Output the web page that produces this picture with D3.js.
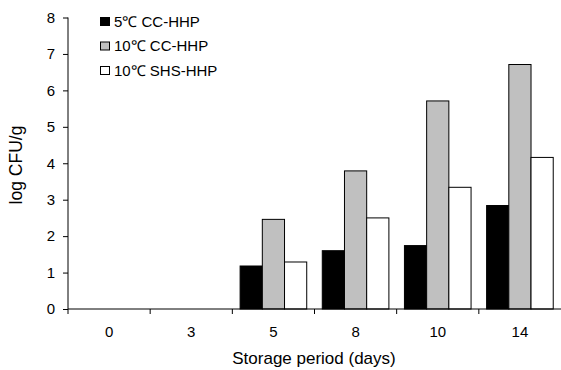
<!DOCTYPE html>
<html>
<head>
<meta charset="utf-8">
<script src="https://cdn.jsdelivr.net/npm/d3@7"></script>
<style>
  body { margin: 0; background: #fff; }
  text { font-family: "Liberation Sans", Arial, sans-serif; fill: #000; }
</style>
</head>
<body>
<div id="chart"></div>
<script>
const days = ['0', '3', '5', '8', '10', '14']
const seriesNames = ['5\u2103 CC-HHP', '10\u2103 CC-HHP', '10\u2103 SHS-HHP']
const cc5 = [0, 0, 1.18, 1.60, 1.74, 2.84]
const cc10 = [0, 0, 2.46, 3.79, 5.71, 6.71]
const shs10 = [0, 0, 1.29, 2.50, 3.34, 4.16]
const yTicks = [0, 1, 2, 3, 4, 5, 6, 7, 8]

const width = 561
const height = 370
const margin = { top: 17.5, right: 0, bottom: 61, left: 68 }
const fills = ['#000000', '#c0c0c0', '#ffffff']

const svg = d3.select('#chart').append('svg')
  .attr('width', width)
  .attr('height', height)

const innerW = width - margin.left - margin.right
const innerH = height - margin.top - margin.bottom

const g = svg.append('g')
  .attr('transform', `translate(${margin.left},${margin.top})`)

const x = d3.scaleBand().domain(days).range([0, innerW])
const sub = d3.scaleBand().domain(seriesNames)
  .range([0, x.bandwidth()]).paddingOuter(0.35).paddingInner(0)
const y = d3.scaleLinear().domain([0, 8]).range([innerH, 0])

const rows = days.map((d, i) => ({ day: d, vals: [cc5[i], cc10[i], shs10[i]] }))

// bars
const groups = g.selectAll('.grp').data(rows).enter().append('g')
  .attr('transform', d => `translate(${x(d.day)},0)`)

groups.selectAll('rect')
  .data(d => d.vals.filter(v => v > 0).length ? d.vals.map((v, k) => ({ v, k })) : [])
  .enter().append('rect')
  .attr('x', d => sub(seriesNames[d.k]))
  .attr('width', sub.bandwidth())
  .attr('y', d => y(d.v))
  .attr('height', d => innerH - y(d.v))
  .attr('fill', d => fills[d.k])
  .attr('stroke', '#000')
  .attr('stroke-width', 1)

// y axis
const yAxis = g.append('g')
  .call(d3.axisLeft(y).tickValues(yTicks).tickSize(5).tickPadding(8))
yAxis.select('.domain').attr('d', `M0,0V${innerH}`)
yAxis.selectAll('text').style('font-size', '15px')

// x axis
const xAxis = g.append('g')
  .attr('transform', `translate(0,${innerH})`)
  .call(d3.axisBottom(x).tickSize(0).tickPadding(17))
xAxis.select('.domain').attr('d', `M0,0H${innerW}`)
xAxis.selectAll('text').style('font-size', '15px')
xAxis.selectAll('.sep').data(days).enter().append('line')
  .attr('x1', d => x(d)).attr('x2', d => x(d))
  .attr('y1', 0).attr('y2', 5)
  .attr('stroke', '#000')

// axis titles
svg.append('text')
  .attr('transform', 'translate(22,165) rotate(-90)')
  .attr('text-anchor', 'middle')
  .style('font-size', '17.5px')
  .text('log CFU/g')

svg.append('text')
  .attr('x', 314)
  .attr('y', 364)
  .attr('text-anchor', 'middle')
  .style('font-size', '17px')
  .text('Storage period (days)')

// legend
const legend = svg.append('g').attr('transform', 'translate(100,17)')
seriesNames.forEach((name, k) => {
  const row = legend.append('g').attr('transform', `translate(0,${k * 24.5})`)
  row.append('rect')
    .attr('x', 0.5).attr('y', 0.5)
    .attr('width', 9).attr('height', 8)
    .attr('fill', fills[k])
    .attr('stroke', '#000')
  row.append('text')
    .attr('x', 14).attr('y', 9.5)
    .style('font-size', '15px')
    .text(name)
})
</script>
</body>
</html>
